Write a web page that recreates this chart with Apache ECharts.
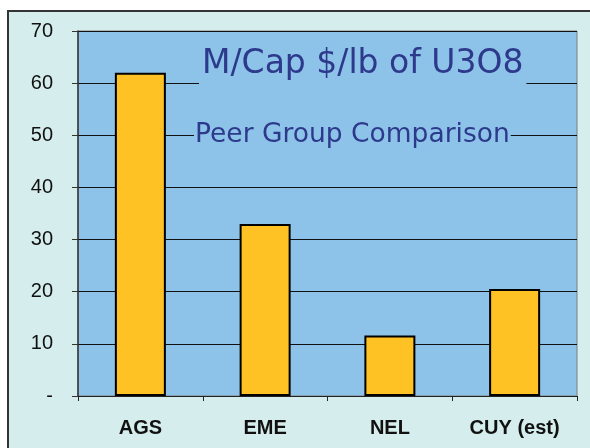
<!DOCTYPE html>
<html>
<head>
    <meta charset="utf-8">
    <title>ECharts</title>
    <script type="text/javascript" src="https://cdn.jsdelivr.net/npm/echarts@6/dist/echarts.min.js"></script>
    <style>
        body { margin: 0; background: #fff; }
        #frame { position: absolute; left: 7px; top: 10px; width: 600px; height: 460px;
                 background: #d5eded; border-top: 2px solid #333; border-left: 2px solid #333; }
        #main { position: absolute; left: 0; top: 0; width: 590px; height: 448px; }
    </style>
</head>
<body>
    <div id="frame"></div>
    <div id="main"></div>
    <script type="text/javascript">
    var myChart = echarts.init(document.getElementById('main'));

    // data
    var companies = ['AGS', 'EME', 'NEL', 'CUY (est)'];
    var capPerLb = [62, 33, 11.6, 20.5];

    var option = {
        backgroundColor: 'transparent',
        animation: false,
        title: [
            {
                text: 'M/Cap $/lb of U3O8',
                left: 199,
                top: 42,
                padding: [6, 3, 10, 3],
                backgroundColor: '#8ec3e9',
                textStyle: {
                    fontFamily: 'DejaVu Sans',
                    fontWeight: 'normal',
                    fontSize: 33,
                    lineHeight: 33,
                    color: '#2d3a8c'
                }
            },
            {
                text: 'Peer Group Comparison',
                left: 194,
                top: 120,
                padding: [2, 1, 2, 1],
                backgroundColor: '#8ec3e9',
                textStyle: {
                    fontFamily: 'DejaVu Sans',
                    fontWeight: 'normal',
                    fontSize: 26.5,
                    lineHeight: 27,
                    color: '#2d3a8c'
                }
            }
        ],
        grid: {
            left: 78,
            top: 31,
            right: 13,
            bottom: 52,
            show: true,
            backgroundColor: '#8ec3e9',
            borderColor: '#7f7f7f',
            borderWidth: 1
        },
        xAxis: {
            type: 'category',
            data: companies,
            axisLine: { lineStyle: { color: '#222', width: 1 } },
            axisTick: { show: true, length: 5, lineStyle: { color: '#222' } },
            axisLabel: {
                margin: 22,
                fontFamily: 'Liberation Sans',
                fontWeight: 'bold',
                fontSize: 20,
                color: '#111'
            }
        },
        yAxis: {
            type: 'value',
            min: 0,
            max: 70,
            interval: 10,
            axisLine: { show: true, lineStyle: { color: '#333', width: 1.5 } },
            axisTick: { show: true, length: 6, lineStyle: { color: '#333' } },
            axisLabel: {
                margin: 25,
                fontFamily: 'Liberation Sans',
                fontSize: 20,
                color: '#111',
                formatter: function (v) { return v === 0 ? '-' : v; }
            },
            splitLine: { show: true, lineStyle: { color: '#111', width: 1 } }
        },
        series: [
            {
                type: 'bar',
                data: capPerLb,
                barWidth: 51,
                itemStyle: {
                    color: '#fec224',
                    borderColor: '#000',
                    borderWidth: 2
                },
                z: 1
            }
        ]
    };

    myChart.setOption(option);
    </script>
</body>
</html>
